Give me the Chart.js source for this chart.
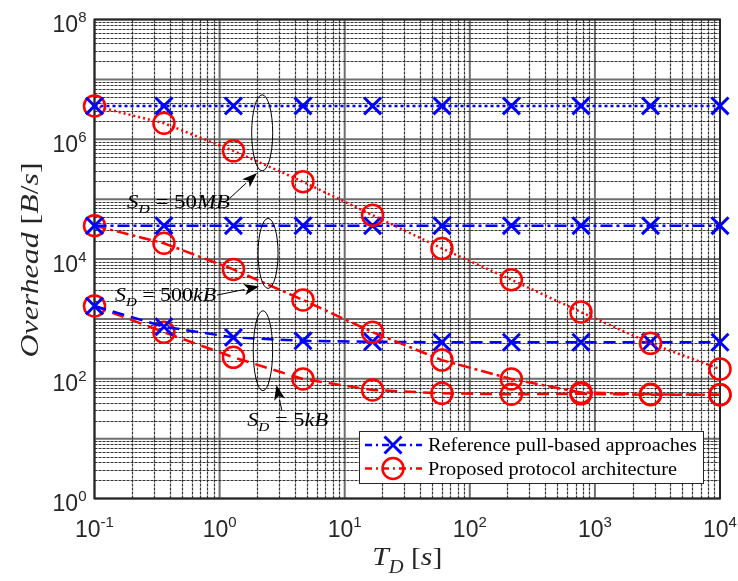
<!DOCTYPE html>
<html>
<head>
<meta charset="utf-8">
<script src="https://cdn.jsdelivr.net/npm/chart.js@4.4.1/dist/chart.umd.min.js"></script>
<style>
  html, body { margin: 0; padding: 0; background: #fff; }
  #wrap { width: 738px; height: 581px; }
</style>
</head>
<body>
<div id="wrap"><canvas id="myChart" width="738" height="581"></canvas></div>
<script>
// Data
const tdValues = [0.1, 0.359, 1.29, 4.64, 16.7, 59.9, 215, 774, 2783, 10000];

const refLarge = [3.6e6, 3.6e6, 3.6e6, 3.6e6, 3.6e6, 3.6e6, 3.6e6, 3.6e6, 3.6e6, 3.6e6];
const propLarge = [3.6e6, 1.85e6, 6.4e5, 1.95e5, 5.4e4, 1.5e4, 4.5e3, 1.3e3, 390, 145];

const refMedium = [3.6e4, 3.6e4, 3.6e4, 3.6e4, 3.6e4, 3.6e4, 3.6e4, 3.6e4, 3.6e4, 3.6e4];
const propMedium = [3.6e4, 1.83e4, 6.7e3, 2.07e3, 600, 205, 99, 59, 55, 54];

const refSmall = [1640, 740, 490, 430, 415, 407, 407, 407, 407, 407];
const propSmall = [1640, 600, 228, 99, 65, 57, 55, 56, 54, 54];

const xTickExps = [-1, 0, 1, 2, 3, 4];
const yTickExps = [0, 2, 4, 6, 8];

const legendLabels = ['Reference pull-based approaches', 'Proposed protocol architecture'];

// annotation anchors in data units
const sizeNotes = [
    { text: '50', unit: 'MB', tx: 0.182, ty: 7.1e4, w: 103, ex: 2.19, ey: 1.28e6, rx: 10.5, ry: 38,
      ax0: 1.21, ay0: 1.04e5, ax1: 1.99, ay1: 2.73e5 },
    { text: '500', unit: 'kB', tx: 0.146, ty: 1.99e3, w: 101, ex: 2.44, ey: 1.24e4, rx: 10, ry: 35,
      ax0: 0.953, ay0: 2.5e3, ax1: 2.07, ay1: 3.47e3 },
    { text: '5', unit: 'kB', tx: 1.66, ty: 16.3, w: 81, ex: 2.22, ey: 294, rx: 9.7, ry: 40,
      ax0: 3.15, ay0: 28.9, ax1: 2.85, ay1: 78.5 }
];

const BLUE = '#0000ff';
const RED = '#ff0000';
const DOT = [3, 3];
const DASHDOT = [12, 4, 3, 4];
const DASH = [12, 7];

function pts(ys) {
    return tdValues.map((x, i) => ({ x: x, y: ys[i] }));
}

function refSet(ys, dash) {
    return {
        label: legendLabels[0], data: pts(ys),
        borderColor: BLUE, borderWidth: 2.5, borderDash: dash,
        pointStyle: 'crossRot', pointRadius: 12, pointBorderWidth: 3,
        pointBorderColor: BLUE, pointBackgroundColor: BLUE,
        fill: false, clip: false, tension: 0
    };
}

function propSet(ys, dash) {
    return {
        label: legendLabels[1], data: pts(ys),
        borderColor: RED, borderWidth: 2.5, borderDash: dash,
        pointStyle: 'circle', pointRadius: 10.5, pointBorderWidth: 2.5,
        pointBorderColor: RED, pointBackgroundColor: 'rgba(0,0,0,0)',
        fill: false, clip: false, tension: 0
    };
}

// text helper: segments {t, it, sz, dy}
function drawRich(ctx, segs, x, y, targetW, align) {
    let w = 0;
    segs.forEach(s => {
        ctx.font = (s.it ? 'italic ' : '') + s.sz + 'px "Liberation Serif", serif';
        s.w = ctx.measureText(s.t).width;
        w += s.w;
    });
    const k = targetW ? targetW / w : 1;
    ctx.save();
    ctx.translate(x, y);
    ctx.scale(k, 1);
    let cx = align === 'center' ? -w / 2 : 0;
    ctx.textAlign = 'left';
    ctx.textBaseline = 'alphabetic';
    segs.forEach(s => {
        ctx.font = (s.it ? 'italic ' : '') + s.sz + 'px "Liberation Serif", serif';
        ctx.fillText(s.t, cx, s.dy || 0);
        cx += s.w;
    });
    ctx.restore();
}

function powLabel(ctx, exp, x, y, align) {
    const base = '10', sup = String(exp);
    ctx.font = '23px "Liberation Sans", Arial, sans-serif';
    const bw = ctx.measureText(base).width;
    ctx.font = '15px "Liberation Sans", Arial, sans-serif';
    const sw = ctx.measureText(sup).width;
    let left = align === 'right' ? x - bw - sw : x - (bw + sw) / 2;
    ctx.textAlign = 'left';
    ctx.textBaseline = 'alphabetic';
    ctx.fillStyle = '#262626';
    ctx.font = '23px "Liberation Sans", Arial, sans-serif';
    ctx.fillText(base, left, y);
    ctx.font = '15px "Liberation Sans", Arial, sans-serif';
    ctx.fillText(sup, left + bw, y - 10);
}

const matlabLook = {
    id: 'matlabLook',
    beforeDatasetsDraw(chart) {
        const ctx = chart.ctx, a = chart.chartArea;
        const xs = chart.scales.x, ys = chart.scales.y;
        ctx.save();
        // major grid
        ctx.strokeStyle = '#6e6e6e';
        ctx.lineWidth = 2;
        for (let e = -1; e <= 4; e++) {
            const px = xs.getPixelForValue(Math.pow(10, e));
            ctx.beginPath(); ctx.moveTo(px, a.top); ctx.lineTo(px, a.bottom); ctx.stroke();
        }
        for (let e = 0; e <= 8; e++) {
            const py = ys.getPixelForValue(Math.pow(10, e));
            ctx.beginPath(); ctx.moveTo(a.left, py); ctx.lineTo(a.right, py); ctx.stroke();
        }
        // minor grid
        ctx.strokeStyle = 'rgba(30,30,30,0.9)';
        ctx.lineWidth = 1.2;
        ctx.setLineDash([3, 1]);
        for (let e = -1; e < 4; e++) {
            for (let m = 2; m <= 9; m++) {
                const px = Math.round(xs.getPixelForValue(m * Math.pow(10, e))) + 0.5;
                ctx.beginPath(); ctx.moveTo(px, a.top); ctx.lineTo(px, a.bottom); ctx.stroke();
            }
        }
        for (let e = 0; e < 8; e++) {
            for (let m = 2; m <= 9; m++) {
                const py = Math.round(ys.getPixelForValue(m * Math.pow(10, e))) + 0.5;
                ctx.beginPath(); ctx.moveTo(a.left, py); ctx.lineTo(a.right, py); ctx.stroke();
            }
        }
        ctx.setLineDash([]);
        // box
        ctx.strokeStyle = '#262626';
        ctx.lineWidth = 2;
        ctx.strokeRect(a.left, a.top, a.right - a.left, a.bottom - a.top);
        ctx.restore();
    },
    afterDraw(chart) {
        const ctx = chart.ctx, a = chart.chartArea;
        const xs = chart.scales.x, ys = chart.scales.y;
        ctx.save();

        // tick labels
        yTickExps.forEach(e => powLabel(ctx, e, a.left - 8, ys.getPixelForValue(Math.pow(10, e)) + 12.5, 'right'));
        xTickExps.forEach(e => powLabel(ctx, e, xs.getPixelForValue(Math.pow(10, e)), a.bottom + 38.5, 'center'));

        // axis titles
        ctx.fillStyle = '#262626';
        drawRich(ctx, [
            { t: 'T', it: true, sz: 26 },
            { t: 'D', it: true, sz: 18, dy: 8 },
            { t: ' [', it: false, sz: 26 },
            { t: 's', it: true, sz: 26 },
            { t: ']', it: false, sz: 26 }
        ], (a.left + a.right) / 2, 565, 70, 'center');

        ctx.save();
        ctx.translate(38, 260);
        ctx.rotate(-Math.PI / 2);
        drawRich(ctx, [
            { t: 'Overhead', it: true, sz: 26 },
            { t: ' [', it: false, sz: 26 },
            { t: 'B', it: true, sz: 26 },
            { t: '/', it: false, sz: 26 },
            { t: 's', it: true, sz: 26 },
            { t: ']', it: false, sz: 26 }
        ], 0, 0, 195, 'center');
        ctx.restore();

        // size annotations: ellipse, arrow, label
        ctx.fillStyle = '#000';
        ctx.strokeStyle = '#000';
        sizeNotes.forEach(n => {
            ctx.lineWidth = 1;
            ctx.beginPath();
            ctx.ellipse(xs.getPixelForValue(n.ex), ys.getPixelForValue(n.ey), n.rx, n.ry, 0, 0, Math.PI * 2);
            ctx.stroke();

            const x0 = xs.getPixelForValue(n.ax0), y0 = ys.getPixelForValue(n.ay0);
            const x1 = xs.getPixelForValue(n.ax1), y1 = ys.getPixelForValue(n.ay1);
            const ang = Math.atan2(y1 - y0, x1 - x0);
            const hl = 15, hw = 5.5;
            const bx = x1 - hl * Math.cos(ang), by = y1 - hl * Math.sin(ang);
            ctx.beginPath(); ctx.moveTo(x0, y0); ctx.lineTo(bx, by); ctx.stroke();
            ctx.beginPath();
            ctx.moveTo(x1, y1);
            ctx.lineTo(bx + hw * Math.sin(ang), by - hw * Math.cos(ang));
            ctx.lineTo(x1 - hl * 0.75 * Math.cos(ang), y1 - hl * 0.75 * Math.sin(ang));
            ctx.lineTo(bx - hw * Math.sin(ang), by + hw * Math.cos(ang));
            ctx.closePath();
            ctx.fill();

            drawRich(ctx, [
                { t: 'S', it: true, sz: 19 },
                { t: 'D', it: true, sz: 13, dy: 5 },
                { t: ' = ', it: false, sz: 19 },
                { t: n.text, it: false, sz: 19 },
                { t: n.unit, it: true, sz: 19 }
            ], xs.getPixelForValue(n.tx), ys.getPixelForValue(n.ty), n.w, 'left');
        });

        // legend box
        const lx = 359, lw = a.right - 17 - lx, lh = 52, ly = a.bottom - 15.5 - lh;
        ctx.fillStyle = '#fff';
        ctx.fillRect(lx, ly, lw, lh);
        ctx.strokeStyle = '#262626';
        ctx.lineWidth = 1;
        ctx.strokeRect(lx + 0.5, ly + 0.5, lw, lh);
        const rows = [
            { color: BLUE, style: 'crossRot', r: 12, bw: 3 },
            { color: RED, style: 'circle', r: 10.5, bw: 2.5 }
        ];
        rows.forEach((row, i) => {
            const cy = ly + 14 + i * 23.5;
            ctx.strokeStyle = row.color;
            ctx.lineWidth = 2.5;
            ctx.setLineDash([7, 4, 2, 4]);
            ctx.beginPath(); ctx.moveTo(lx + 6, cy); ctx.lineTo(lx + 63, cy); ctx.stroke();
            ctx.setLineDash([]);
            ctx.fillStyle = row.color;
            ctx.lineWidth = row.bw;
            if (row.style === 'circle') {
                ctx.beginPath(); ctx.arc(lx + 34, cy, row.r, 0, Math.PI * 2); ctx.stroke();
            } else {
                Chart.helpers.drawPoint(ctx, { pointStyle: row.style, radius: row.r, borderWidth: row.bw }, lx + 34, cy);
            }
            ctx.fillStyle = '#000';
            drawRich(ctx, [{ t: legendLabels[i], it: false, sz: 18 }], lx + 69, cy + 6, i === 0 ? 269 : 249, 'left');
        });
        ctx.restore();
    }
};

const ctx = document.getElementById('myChart').getContext('2d');

new Chart(ctx, {
    type: 'line',
    data: {
        datasets: [
            refSet(refLarge, DOT),
            propSet(propLarge, [2, 3]),
            refSet(refMedium, DASHDOT),
            propSet(propMedium, DASHDOT),
            refSet(refSmall, DASH),
            propSet(propSmall, DASH)
        ]
    },
    options: {
        responsive: false,
        animation: false,
        devicePixelRatio: 1,
        layout: { padding: { top: 19.5, right: 18, left: 0, bottom: 0 } },
        plugins: {
            legend: { display: false },
            tooltip: { enabled: false }
        },
        scales: {
            x: {
                type: 'logarithmic', min: 0.1, max: 1e4,
                grid: { display: false }, border: { display: false },
                ticks: { display: false },
                afterFit: s => { s.height = 82.5; }
            },
            y: {
                type: 'logarithmic', min: 1, max: 1e8,
                grid: { display: false }, border: { display: false },
                ticks: { display: false },
                afterFit: s => { s.width = 94.5; }
            }
        }
    },
    plugins: [matlabLook]
});
</script>
</body>
</html>
